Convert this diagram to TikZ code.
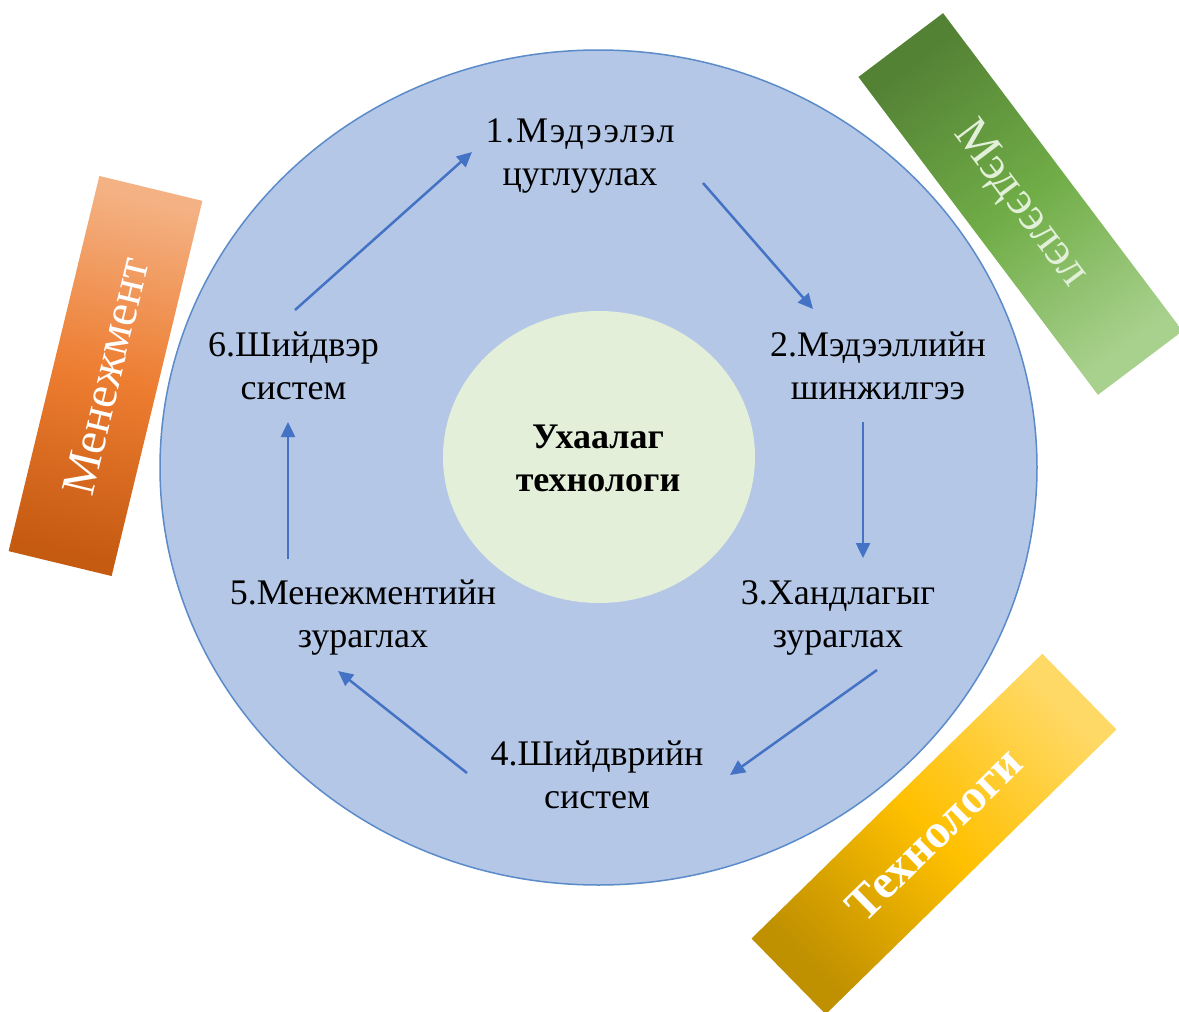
\documentclass[tikz,border=0pt]{standalone}
\usepackage{fontspec}
\setmainfont{Liberation Serif}
\usetikzlibrary{arrows.meta,shapes.geometric}
\definecolor{outerfill}{HTML}{B4C7E7}
\definecolor{outerline}{HTML}{5B8BC9}
\definecolor{innerfill}{HTML}{E4EFDA}
\definecolor{arrowblue}{HTML}{4472C4}
\definecolor{orgdark}{HTML}{C55A11}
\definecolor{orgmid}{HTML}{ED7D31}
\definecolor{orglight}{HTML}{F4B183}
\definecolor{grndark}{HTML}{548235}
\definecolor{grnmid}{HTML}{70AD47}
\definecolor{grnlight}{HTML}{A9D18E}
\definecolor{grntext}{HTML}{E2F0D9}
\definecolor{yeldark}{HTML}{BF9000}
\definecolor{yelmid}{HTML}{FFC000}
\definecolor{yellight}{HTML}{FFD966}
\tikzset{
  lbl/.style={align=center, inner sep=0pt, font=\fontsize{36}{43}\selectfont},
  flow/.style={draw=arrowblue, line width=2.5pt, -{Triangle[length=15pt,width=14pt]}},
  band/.style={inner sep=0pt, minimum width=#1, minimum height=106pt, font=\fontsize{48}{56}\selectfont},
}
\begin{document}
\begin{tikzpicture}[x=1pt,y=-1pt]
\useasboundingbox (0,0) rectangle (1179,1012);
% outer and inner discs
\node[ellipse, draw=outerline, line width=1.5pt, fill=outerfill, inner sep=0pt,
      minimum width=877pt, minimum height=835pt] (outer) at (598.5,467.5) {};
\node[ellipse, fill=innerfill, inner sep=0pt,
      minimum width=312pt, minimum height=292pt] (inner) at (599,457) {};
\node[lbl, font=\fontsize{36}{43}\selectfont\bfseries] (core) at (598,461) {\strut Ухаалаг\\\strut технологи};
% side bands
\node[band=386pt, rotate=76.4, top color=orglight, bottom color=orgdark, middle color=orgmid, shading angle=-13.6, text=white] (mgmt) at (105.5,376) {Менежмент};
\node[band=398pt, rotate=-53, top color=grndark, bottom color=grnlight, middle color=grnmid, shading angle=37, text=grntext] (info) at (1020.5,204) {Мэдээлэл};
\node[band=407pt, rotate=44.4, top color=yellight, bottom color=yeldark, middle color=yelmid, shading angle=-45.6, text=white, font=\fontsize{48}{56}\selectfont\bfseries] (tech) at (934,834) {Технологи};
% step labels
\node[lbl] (s1) at (580,155) {\strut {\addfontfeature{LetterSpace=5}1.Мэдээлэл}\\\strut цуглуулах};
\node[lbl] (s2) at (878,369) {\strut 2.Мэдээллийн\\\strut шинжилгээ};
\node[lbl] (s3) at (838,617) {\strut 3.Хандлагыг\\\strut зураглах};
\node[lbl] (s4) at (597,778) {\strut 4.Шийдврийн\\\strut систем};
\node[lbl] (s5) at (363,617) {\strut 5.Менежментийн\\\strut зураглах};
\node[lbl] (s6) at (293.5,369) {\strut 6.Шийдвэр\\\strut систем};
% arrow end points
\coordinate (a61) at (295,310);  \coordinate (b61) at (472,152);
\coordinate (a12) at (703,183);  \coordinate (b12) at (813,309);
\coordinate (a23) at (863,422);  \coordinate (b23) at (863,558);
\coordinate (a34) at (877,670);  \coordinate (b34) at (730,775);
\coordinate (a45) at (467,773);  \coordinate (b45) at (338,671);
\coordinate (a56) at (288,559);  \coordinate (b56) at (288,422);
\draw[flow] (a61) -- (b61);
\draw[flow] (a12) -- (b12);
\draw[flow] (a23) -- (b23);
\draw[flow] (a34) -- (b34);
\draw[flow] (a45) -- (b45);
\draw[flow] (a56) -- (b56);
\end{tikzpicture}
\end{document}
